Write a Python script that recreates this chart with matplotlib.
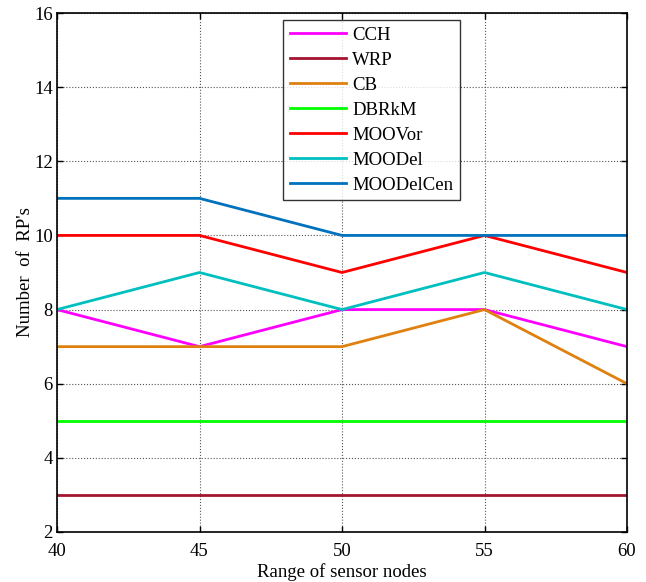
import matplotlib
matplotlib.use("Agg")
import matplotlib.pyplot as plt

x = [40, 45, 50, 55, 60]
cch = [8, 7, 8, 8, 7]
wrp = [3, 3, 3, 3, 3]
cb = [7, 7, 7, 8, 6]
dbrkm = [5, 5, 5, 5, 5]
moovor = [10, 10, 9, 10, 9]
moodel = [8, 9, 8, 9, 8]
moodelcen = [11, 11, 10, 10, 10]

labels = ["CCH", "WRP", "CB", "DBRkM", "MOOVor", "MOODel", "MOODelCen"]
colors = ["#FF00FF", "#A2142F", "#DF800F", "#00FF00", "#FF0000", "#00BFBF", "#0072BD"]
series = [cch, wrp, cb, dbrkm, moovor, moodel, moodelcen]

plt.rcParams['font.family'] = ['Liberation Serif', 'DejaVu Serif']

fig = plt.figure(figsize=(6.46, 5.82), dpi=100)
ax = fig.add_axes([57/646, 1-532/582, (627-57)/646, (532-13)/582])

for y, lab, c in zip(series, labels, colors):
    ax.plot(x, y, color=c, lw=2, label=lab)

ax.set_xlim(40, 60)
ax.set_ylim(2, 16)
ax.set_xticks([40, 45, 50, 55, 60])
ax.set_yticks([2, 4, 6, 8, 10, 12, 14, 16])
ax.grid(True, linestyle=':', color='#555555', lw=0.8)
ax.tick_params(direction='in', top=True, right=True, labelsize=13.5, length=4, width=1)
ax.tick_params(axis='x', pad=8)
ax.tick_params(axis='y', pad=3)
for s in ax.spines.values():
    s.set_linewidth(1.2)
ax.set_xlabel("Range of sensor nodes", fontsize=13.5, labelpad=2)
ax.set_ylabel("Number  of  RP's", fontsize=13.5, labelpad=0)

leg = ax.legend(loc='upper left', bbox_to_anchor=((283-57)/570, 1-(20-13)/519),
                fontsize=13.5, frameon=True, fancybox=False, edgecolor='black',
                handlelength=3.0, borderpad=0.35, labelspacing=0.42, handletextpad=0.35,
                borderaxespad=0)
leg.get_frame().set_linewidth(1.0)

fig.savefig("out.png", dpi=100)
